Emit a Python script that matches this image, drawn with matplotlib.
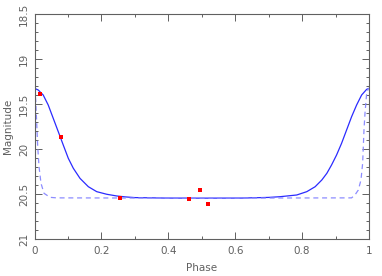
import matplotlib
matplotlib.use("Agg")
import matplotlib.pyplot as plt
from matplotlib.ticker import MultipleLocator, FuncFormatter

# observed points (phase, magnitude)
obs_phase = [0.015, 0.079, 0.255, 0.462, 0.495, 0.520]
obs_mag = [19.385, 19.867, 20.548, 20.556, 20.452, 20.608]

# model curve, solid
model_phase = [0.0, 0.011, 0.026, 0.041, 0.056, 0.071, 0.086, 0.101, 0.116, 0.136,
               0.161, 0.186, 0.216, 0.246, 0.271, 0.300, 0.390, 0.500, 0.620, 0.700,
               0.734, 0.784, 0.814, 0.839, 0.859, 0.874, 0.888, 0.903, 0.918, 0.933,
               0.948, 0.963, 0.978, 0.993, 1.0]
model_mag = [19.326, 19.344, 19.400, 19.511, 19.659, 19.807, 19.956, 20.103, 20.214, 20.326,
             20.419, 20.474, 20.503, 20.522, 20.532, 20.540, 20.545, 20.546, 20.545, 20.538,
             20.530, 20.511, 20.474, 20.419, 20.344, 20.270, 20.178, 20.067, 19.937, 19.789,
             19.641, 19.511, 19.400, 19.337, 19.326]

# second model, dashed
model2_phase = [0.0, 0.0007, 0.0036, 0.0066, 0.0096, 0.0135, 0.0194, 0.0284, 0.0463, 0.066,
                0.500, 0.948, 0.958, 0.968, 0.976, 0.981, 0.983, 0.985, 0.988, 0.993, 0.998, 1.0]
model2_mag = [19.326, 19.344, 19.456, 19.714, 19.974, 20.196, 20.381, 20.492, 20.537, 20.543,
              20.546, 20.543, 20.511, 20.456, 20.344, 20.159, 19.974, 19.789, 19.603, 19.381, 19.330, 19.326]

grey = "#606060"

fig = plt.figure(figsize=(3.82, 2.76), dpi=100)
ax = fig.add_axes([34.5 / 382, 1 - 239 / 276, 334.5 / 382, 225 / 276])

ax.plot(model_phase, model_mag, color="#2b2bff", lw=0.9)
ax.plot(model2_phase, model2_mag, color="#8c8cff", lw=0.9, ls=(0, (4, 3)))
ax.scatter(obs_phase, obs_mag, marker="s", s=12, color="red", zorder=3, linewidths=0)

ax.set_xlim(0, 1)
ax.set_ylim(21, 18.5)
ax.xaxis.set_major_locator(MultipleLocator(0.2))
ax.xaxis.set_minor_locator(MultipleLocator(0.1))
ax.yaxis.set_major_locator(MultipleLocator(0.5))
ax.yaxis.set_minor_locator(MultipleLocator(0.1))
fmt = FuncFormatter(lambda v, pos: f"{v:g}")
ax.xaxis.set_major_formatter(fmt)
ax.yaxis.set_major_formatter(fmt)
ax.tick_params(which="both", direction="in", top=True, right=True, colors=grey,
               labelsize=7.5, width=0.7)
ax.tick_params(which="major", length=5)
ax.tick_params(which="minor", length=2.5)
ax.tick_params(axis="y", labelrotation=90, pad=4)
for lbl in ax.get_yticklabels():
    lbl.set_va("center")
ax.tick_params(axis="x", pad=5)
for s in ax.spines.values():
    s.set_color(grey)
    s.set_linewidth(0.8)

ax.set_xlabel("Phase", color=grey, fontsize=7.5, labelpad=5)
ax.set_ylabel("Magnitude", color=grey, fontsize=7.5, labelpad=4)

fig.savefig("out.png", dpi=100)
